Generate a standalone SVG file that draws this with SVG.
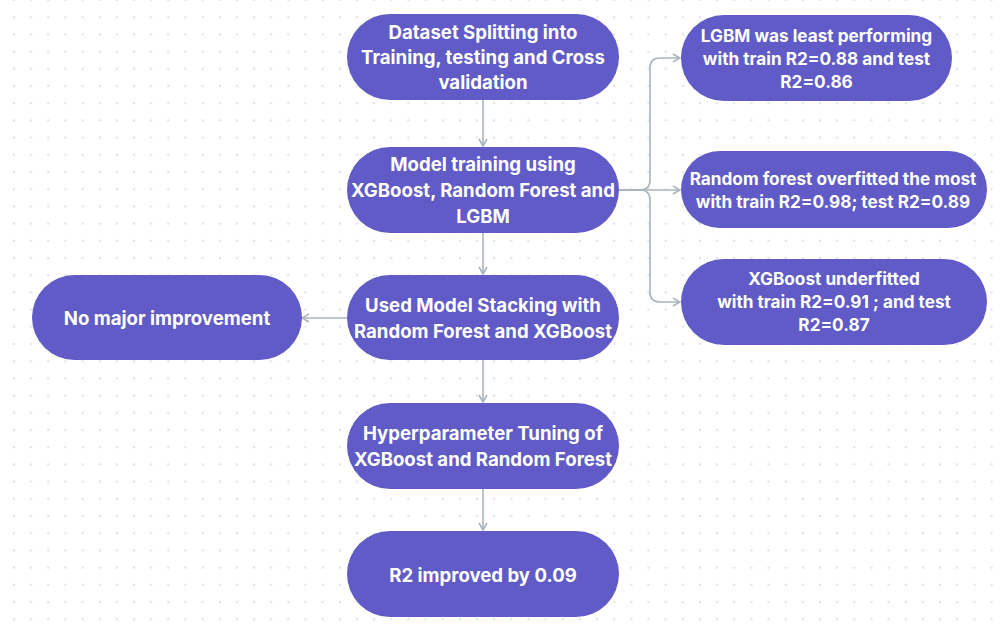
<svg xmlns="http://www.w3.org/2000/svg" width="1006" height="631" viewBox="0 0 1006 631">
<style>
.n{fill:#605bc6;}
.t{fill:#ffffff;font-family:Inter,"Noto Sans","Liberation Sans",sans-serif;font-weight:700;font-size:18.6px;text-anchor:middle;}
.s{font-size:17.2px;}
.c{fill:none;stroke:#a9b4bb;stroke-width:1.6;}
</style>
<defs>
<pattern id="dots" patternUnits="userSpaceOnUse" x="5.4" y="-8.6" width="17.15" height="17.2">
<circle cx="8.575" cy="8.6" r="1.3" fill="#e1e3ea"/>
</pattern>
<marker id="ah" viewBox="0 0 10 10" refX="9" refY="5" markerWidth="10" markerHeight="10" markerUnits="userSpaceOnUse" orient="auto">
<path d="M2,1 L9,5 L2,9" fill="none" stroke="#a9b4bb" stroke-width="1.6"/>
</marker>
</defs>
<rect width="1006" height="631" fill="#ffffff"/>
<rect width="1006" height="631" fill="url(#dots)"/>
<g id="connectors">
<path class="c" d="M483,100 V146" marker-end="url(#ah)"/>
<path class="c" d="M483,233 V274" marker-end="url(#ah)"/>
<path class="c" d="M483,360 V402" marker-end="url(#ah)"/>
<path class="c" d="M483,489 V530" marker-end="url(#ah)"/>
<path class="c" d="M347,318 H302" marker-end="url(#ah)"/>
<path class="c" d="M619,190 H680" marker-end="url(#ah)"/>
<path class="c" d="M619,190 H640 Q650,190 650,180 V68 Q650,58 660,58 H680" marker-end="url(#ah)"/>
<path class="c" d="M619,190 H640 Q650,190 650,200 V292 Q650,302 660,302 H680" marker-end="url(#ah)"/>
</g>
<g id="node-split">
<rect class="n" x="347" y="14" width="272" height="86" rx="43"/>
<text class="t" x="483" y="39">Dataset Splitting into</text>
<text class="t" x="483" y="64">Training, testing and Cross</text>
<text class="t" x="483" y="89">validation</text>
</g>
<g id="node-train">
<rect class="n" x="347" y="147" width="272" height="86" rx="43"/>
<text class="t" x="483" y="171">Model training using</text>
<text class="t" x="483" y="197">XGBoost, Random Forest and</text>
<text class="t" x="483" y="223">LGBM</text>
</g>
<g id="node-stack">
<rect class="n" x="347" y="275" width="272" height="85" rx="42.5"/>
<text class="t" x="483" y="312">Used Model Stacking with</text>
<text class="t" x="483" y="338">Random Forest and XGBoost</text>
</g>
<g id="node-nomajor">
<rect class="n" x="32" y="275" width="270" height="85" rx="42.5"/>
<text class="t" x="167" y="325">No major improvement</text>
</g>
<g id="node-tuning">
<rect class="n" x="347" y="403" width="272" height="86" rx="43"/>
<text class="t" x="483" y="440">Hyperparameter Tuning of</text>
<text class="t" x="483" y="466">XGBoost and Random Forest</text>
</g>
<g id="node-r2">
<rect class="n" x="347" y="531" width="272" height="86" rx="43"/>
<text class="t" x="483" y="582">R2 improved by 0.09</text>
</g>
<g id="node-lgbm">
<rect class="n" x="681" y="15" width="271" height="86" rx="43"/>
<text class="t s" x="816.5" y="42">LGBM was least performing</text>
<text class="t s" x="816.5" y="65">with train R2=0.88 and test</text>
<text class="t s" x="816.5" y="88">R2=0.86</text>
</g>
<g id="node-rf">
<rect class="n" x="681" y="151" width="306" height="77" rx="38.5"/>
<text class="t s" x="833" y="185">Random forest overfitted the most</text>
<text class="t s" x="833" y="208">with train R2=0.98; test R2=0.89</text>
</g>
<g id="node-xgb">
<rect class="n" x="681" y="259" width="306" height="86" rx="43"/>
<text class="t s" x="834" y="285">XGBoost underfitted</text>
<text class="t s" x="834" y="308">with train R2=0.91 ; and test</text>
<text class="t s" x="834" y="331">R2=0.87</text>
</g>
</svg>
